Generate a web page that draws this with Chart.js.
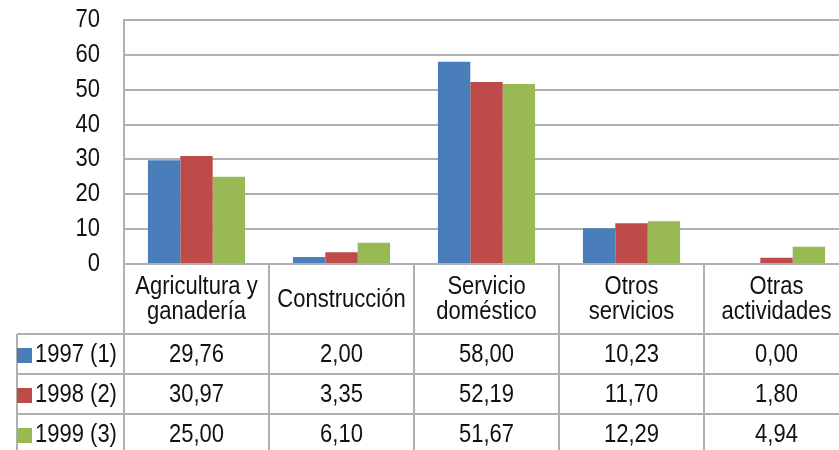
<!DOCTYPE html>
<html>
<head>
<meta charset="utf-8">
<script src="https://cdn.jsdelivr.net/npm/chart.js@4.4.0/dist/chart.umd.min.js"></script>
<style>
  html, body { margin: 0; padding: 0; background: #fff; overflow: hidden; }
  #wrap { width: 860px; height: 450px; }
</style>
</head>
<body>
<div id="wrap"><canvas id="chart" width="860" height="450"></canvas></div>
<script>
const categories = [['Agricultura y', 'ganadería'], 'Construcción', ['Servicio', 'doméstico'], ['Otros', 'servicios'], ['Otras', 'actividades']];
const seriesNames = ['1997 (1)', '1998 (2)', '1999 (3)'];
const values1997 = [29.76, 2.00, 58.00, 10.23, 0.00];
const values1998 = [30.97, 3.35, 52.19, 11.70, 1.80];
const values1999 = [25.00, 6.10, 51.67, 12.29, 4.94];
const yTicks = [0, 10, 20, 30, 40, 50, 60, 70];

const colors = ['#4a7ebb', '#be4b48', '#98b954'];
const lineColor = '#b0b0b0';
const font = '22px "Liberation Sans", Arial, sans-serif';

// text in the reference is a bit taller than wide, so stretch it
function tallText(ctx, t, x, y) {
  ctx.save();
  ctx.translate(x, y);
  ctx.scale(1, 1.15);
  ctx.fillText(t, 0, 0);
  ctx.restore();
}

// draws y labels and the data table under the plot
const tablePlugin = {
  id: 'dataTable',
  afterDraw(chart) {
    const ctx = chart.ctx;
    const xs = chart.scales.x;
    const ys = chart.scales.y;
    const top = chart.chartArea.bottom;
    const left = xs.left;
    const right = xs.right;
    const colW = (right - left) / categories.length;
    const headH = 70, rowH = 40;
    const legendLeft = 17;
    const bottom = top + headH + rowH * 3;

    ctx.save();
    ctx.strokeStyle = lineColor;
    ctx.lineWidth = 2;
    ctx.beginPath();
    for (let i = 0; i <= categories.length; i++) {
      const x = left + i * colW;
      ctx.moveTo(x, top); ctx.lineTo(x, bottom);
    }
    ctx.moveTo(legendLeft, top + headH); ctx.lineTo(legendLeft, bottom);
    for (let r = 0; r <= 3; r++) {
      const y = top + headH + r * rowH;
      ctx.moveTo(legendLeft, y); ctx.lineTo(right, y);
    }
    ctx.stroke();

    ctx.font = font;
    ctx.fillStyle = '#111';
    ctx.textBaseline = 'middle';

    ctx.textAlign = 'right';
    yTicks.forEach(v => tallText(ctx, String(v), 100, ys.getPixelForValue(v)));

    ctx.textAlign = 'center';
    categories.forEach((c, i) => {
      const cx = xs.getPixelForValue(i);
      const lines = Array.isArray(c) ? c : [c];
      const midY = top + headH / 2 + 1;
      lines.forEach((t, k) => {
        tallText(ctx, t, cx, midY + (k - (lines.length - 1) / 2) * 25);
      });
    });

    chart.data.datasets.forEach((ds, r) => {
      const cy = top + headH + r * rowH + rowH / 2 + 1;
      ctx.fillStyle = ds.backgroundColor;
      ctx.fillRect(legendLeft, cy - 7, 15, 15);
      ctx.fillStyle = '#111';
      ctx.textAlign = 'left';
      tallText(ctx, ds.label, 35, cy);
      ctx.textAlign = 'center';
      ds.data.forEach((v, i) => {
        tallText(ctx, v.toFixed(2).replace('.', ','), xs.getPixelForValue(i), cy);
      });
    });
    ctx.restore();
  }
};

new Chart(document.getElementById('chart'), {
  type: 'bar',
  data: {
    labels: categories,
    datasets: [
      { label: seriesNames[0], data: values1997, backgroundColor: colors[0] },
      { label: seriesNames[1], data: values1998, backgroundColor: colors[1] },
      { label: seriesNames[2], data: values1999, backgroundColor: colors[2] }
    ]
  },
  options: {
    responsive: false,
    animation: false,
    layout: { padding: { top: 20, right: 11, bottom: 186, left: 0 } },
    datasets: { bar: { categoryPercentage: 0.67, barPercentage: 1 } },
    plugins: { legend: { display: false }, tooltip: { enabled: false } },
    scales: {
      x: { display: false },
      y: {
        min: 0,
        max: 70,
        afterBuildTicks: (s) => { s.ticks = yTicks.map(v => ({ value: v })); },
        afterFit: (s) => { s.width = 124; },
        grid: { color: lineColor, lineWidth: 2, drawTicks: false },
        border: { color: lineColor, width: 2 },
        ticks: { display: false }
      }
    }
  },
  plugins: [tablePlugin]
});
</script>
</body>
</html>
